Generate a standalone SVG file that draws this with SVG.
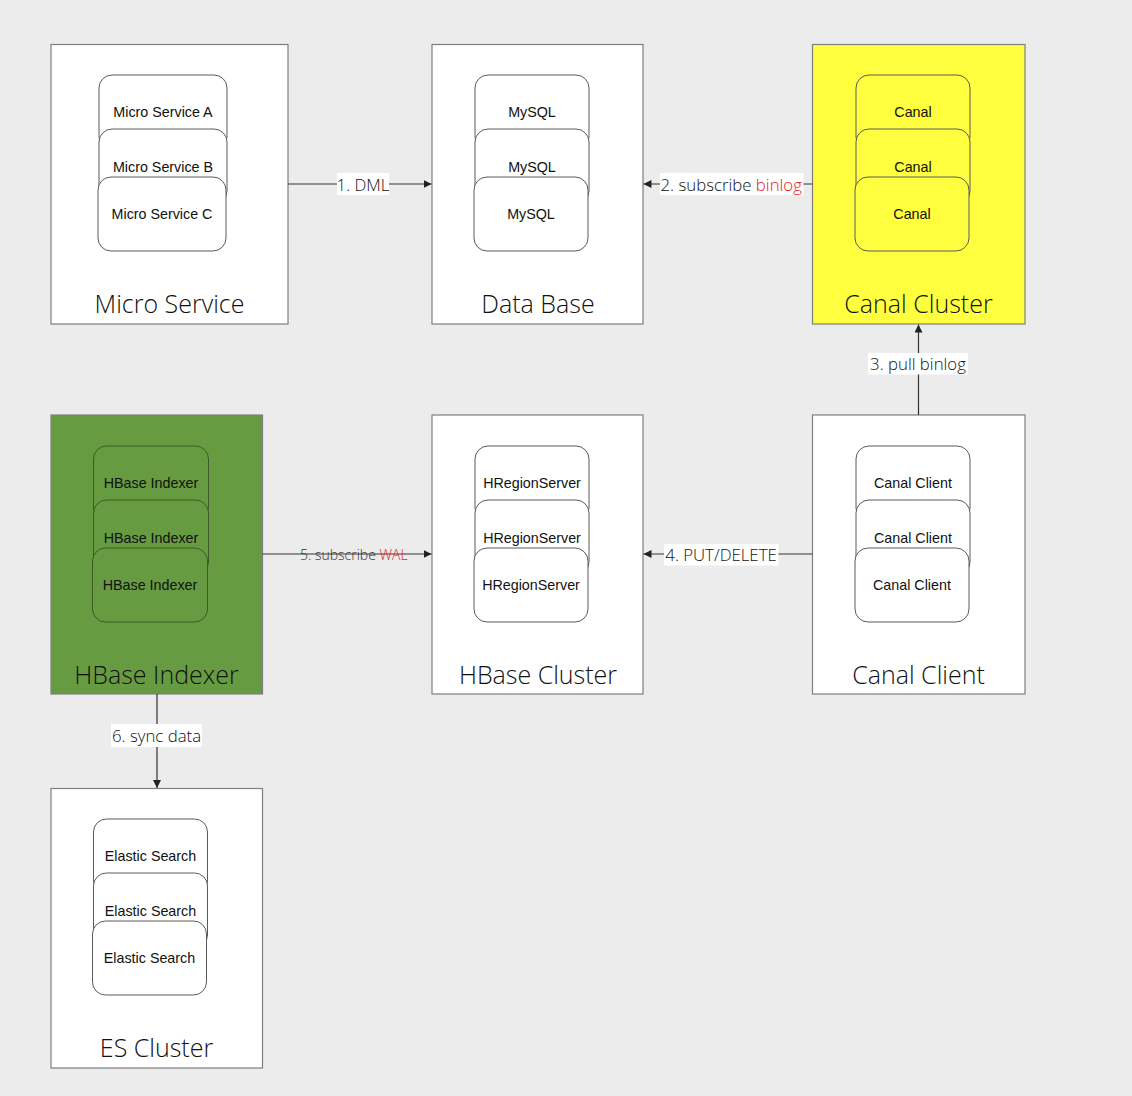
<svg xmlns="http://www.w3.org/2000/svg" width="1132" height="1096" viewBox="0 0 1132 1096">
<defs>
<style>
.bg{fill:#ececec}
.box{stroke:#7f7f7f;stroke-width:1.2}
.white{fill:#ffffff}
.yellow{fill:#ffff3f}
.green{fill:#679b42}
.inner{stroke:#5a5a5a;stroke-width:1}
.innerg{stroke:#3d5a28;stroke-width:1}
.title{font-family:"Open Sans","Liberation Sans",sans-serif;font-weight:300;font-size:25px;fill:#111;text-anchor:middle}
.itxt{font-family:"Liberation Sans",Arial,sans-serif;font-size:14.3px;fill:#111;text-anchor:middle}
.lbl{font-family:"Open Sans","Liberation Sans",sans-serif;font-weight:300;font-size:16.8px;fill:#111}
.lblbg{fill:#ffffff}
.red{fill:#e8202a}
.conn{stroke:#333;stroke-width:1.2;fill:none;marker-end:url(#arr)}
</style>
<marker id="arr" viewBox="0 0 10 10" refX="10" refY="5" markerWidth="8" markerHeight="8" markerUnits="userSpaceOnUse" orient="auto">
<path d="M0,0 L10,5 L0,10 z" fill="#222"/>
</marker>
</defs>
<rect class="bg" x="0" y="0" width="1132" height="1096"/>

<g id="micro-service">
<rect class="box white" x="51" y="44.5" width="237" height="279.5"/>
<rect class="inner white" x="99" y="75" width="128" height="75" rx="13"/>
<rect class="inner white" x="99" y="129" width="128" height="75" rx="13"/>
<rect class="inner white" x="98" y="177" width="128" height="74" rx="13"/>
<text class="itxt" x="163" y="117">Micro Service A</text>
<text class="itxt" x="163" y="171.5">Micro Service B</text>
<text class="itxt" x="162" y="219">Micro Service C</text>
<text class="title" x="169.5" y="312.5">Micro Service</text>
</g>

<g id="data-base">
<rect class="box white" x="432" y="44.5" width="211" height="279.5"/>
<rect class="inner white" x="475" y="75" width="114" height="75" rx="13"/>
<rect class="inner white" x="475" y="129" width="114" height="75" rx="13"/>
<rect class="inner white" x="474" y="177" width="114" height="74" rx="13"/>
<text class="itxt" x="532" y="117">MySQL</text>
<text class="itxt" x="532" y="171.5">MySQL</text>
<text class="itxt" x="531" y="219">MySQL</text>
<text class="title" x="538" y="312.5">Data Base</text>
</g>

<g id="canal-cluster">
<rect class="box yellow" x="812.5" y="44.5" width="212.5" height="279.5"/>
<rect class="inner yellow" x="856" y="75" width="114" height="75" rx="13"/>
<rect class="inner yellow" x="856" y="129" width="114" height="75" rx="13"/>
<rect class="inner yellow" x="855" y="177" width="114" height="74" rx="13"/>
<text class="itxt" x="913" y="117">Canal</text>
<text class="itxt" x="913" y="171.5">Canal</text>
<text class="itxt" x="912" y="219">Canal</text>
<text class="title" x="918.5" y="312.5">Canal Cluster</text>
</g>

<g id="hbase-indexer">
<rect class="box green" x="51" y="415" width="211.5" height="279"/>
<rect class="innerg green" x="93.5" y="446" width="115" height="75" rx="13"/>
<rect class="innerg green" x="93.5" y="500" width="115" height="75" rx="13"/>
<rect class="innerg green" x="92.5" y="548" width="115" height="74" rx="13"/>
<text class="itxt" x="151" y="488">HBase Indexer</text>
<text class="itxt" x="151" y="542.5">HBase Indexer</text>
<text class="itxt" x="150" y="590">HBase Indexer</text>
<text class="title" x="156.5" y="683.5">HBase Indexer</text>
</g>

<g id="hbase-cluster">
<rect class="box white" x="432" y="415" width="211" height="279"/>
<rect class="inner white" x="475" y="446" width="114" height="75" rx="13"/>
<rect class="inner white" x="475" y="500" width="114" height="75" rx="13"/>
<rect class="inner white" x="474" y="548" width="114" height="74" rx="13"/>
<text class="itxt" x="532" y="488">HRegionServer</text>
<text class="itxt" x="532" y="542.5">HRegionServer</text>
<text class="itxt" x="531" y="590">HRegionServer</text>
<text class="title" x="538" y="683.5">HBase Cluster</text>
</g>

<g id="canal-client">
<rect class="box white" x="812.5" y="415" width="212.5" height="279"/>
<rect class="inner white" x="856" y="446" width="114" height="75" rx="13"/>
<rect class="inner white" x="856" y="500" width="114" height="75" rx="13"/>
<rect class="inner white" x="855" y="548" width="114" height="74" rx="13"/>
<text class="itxt" x="913" y="488">Canal Client</text>
<text class="itxt" x="913" y="542.5">Canal Client</text>
<text class="itxt" x="912" y="590">Canal Client</text>
<text class="title" x="918.5" y="683.5">Canal Client</text>
</g>

<g id="es-cluster">
<rect class="box white" x="51" y="788.5" width="211.5" height="279.5"/>
<rect class="inner white" x="93.5" y="819" width="114" height="75" rx="13"/>
<rect class="inner white" x="93.5" y="873" width="114" height="75" rx="13"/>
<rect class="inner white" x="92.5" y="921" width="114" height="74" rx="13"/>
<text class="itxt" x="150.5" y="861">Elastic Search</text>
<text class="itxt" x="150.5" y="915.5">Elastic Search</text>
<text class="itxt" x="149.5" y="963">Elastic Search</text>
<text class="title" x="156.5" y="1056.5">ES Cluster</text>
</g>

<g id="connectors">
<path class="conn" d="M288,184 H431.5"/>
<rect class="lblbg" x="337" y="173" width="52" height="22"/>
<text class="lbl" x="363" y="191" text-anchor="middle">1. DML</text>

<path class="conn" d="M812.5,184 H643.5"/>
<rect class="lblbg" x="660" y="173" width="143.5" height="22"/>
<text class="lbl" x="660.5" y="191">2. subscribe <tspan class="red">binlog</tspan></text>

<path class="conn" d="M918.5,415 V324.5"/>
<rect class="lblbg" x="868" y="353" width="100" height="21.5"/>
<text class="lbl" x="918" y="370" text-anchor="middle">3. pull binlog</text>

<path class="conn" d="M812.5,554 H643.5"/>
<rect class="lblbg" x="664" y="544" width="114.5" height="21.5"/>
<text class="lbl" x="721" y="561" text-anchor="middle">4. PUT/DELETE</text>

<path class="conn" d="M262.5,554 H431.5"/>
<text class="lbl" x="300" y="559.5" style="font-size:14px;fill:#333">5. subscribe <tspan class="red">WAL</tspan></text>

<path class="conn" d="M157,694 V788"/>
<rect class="lblbg" x="111" y="724" width="91" height="23"/>
<text class="lbl" x="156.5" y="742" text-anchor="middle">6. sync data</text>
</g>
</svg>
